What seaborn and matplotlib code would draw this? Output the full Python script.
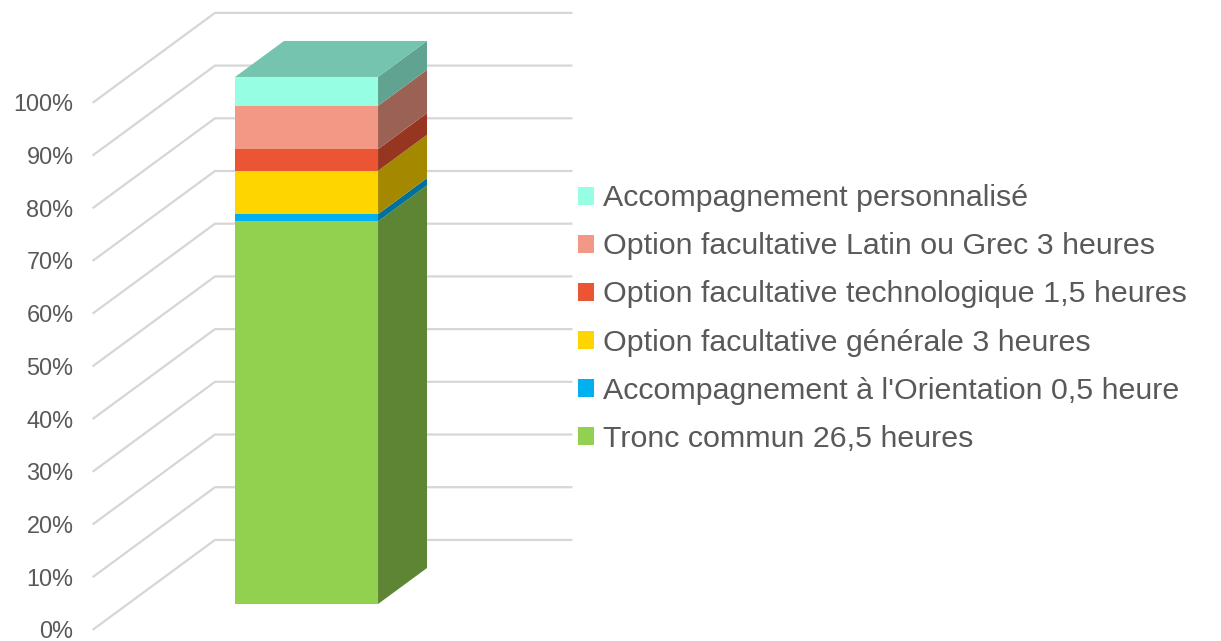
import matplotlib
matplotlib.use("Agg")
import matplotlib.pyplot as plt
from matplotlib.patches import Patch
import seaborn as sns
import numpy as np
import pandas as pd

# ---------------- data ----------------
categories = [
    "Tronc commun 26,5 heures",
    "Accompagnement à l'Orientation 0,5 heure",
    "Option facultative générale 3 heures",
    "Option facultative technologique 1,5 heures",
    "Option facultative Latin ou Grec 3 heures",
    "Accompagnement personnalisé",
]
hours = [26.5, 0.5, 3.0, 1.5, 3.0, 2.0]
bar_label = "Seconde"
tick_values = [0, 10, 20, 30, 40, 50, 60, 70, 80, 90, 100]
tick_labels = [f"{v}%" for v in tick_values]

# ---------------- style ----------------
front_colors = ["#92D050", "#00B0F0", "#FFD500", "#EB5533", "#F29885", "#96FFE3"]
SIDE_SHADE = 0.64
TOP_SHADE = 0.77
TEXT_COLOR = "#595959"
GRID_COLOR = "#D6D6D6"

DX, DY = 0.274, 6.83          # screen shift for one unit of depth
BAR_W = 0.8
FLOOR_X = (-1.0, 1.0)
FLOOR_Z = (-0.72, 1.78)

sns.set_theme(style="white")
plt.rcParams["font.family"] = ["Liberation Sans", "DejaVu Sans"]


def shade(hex_color, f):
    r, g, b = matplotlib.colors.to_rgb(hex_color)
    return (r * f, g * f, b * f)


def proj(x, y, z):
    return x + z * DX, y + z * DY


pct = np.array(hours) / np.sum(hours) * 100
tops = np.cumsum(pct)
bottoms = tops - pct

fig = plt.figure(figsize=(12.21, 6.41), dpi=100)
ax = fig.add_axes([0, 0, 1, 1])

# gridlines: floor diagonal + back wall
for t in tick_values:
    p0 = proj(FLOOR_X[0], t, FLOOR_Z[0])
    p1 = proj(FLOOR_X[0], t, FLOOR_Z[1])
    p2 = proj(FLOOR_X[1], t, FLOOR_Z[1])
    ax.plot([p0[0], p1[0], p2[0]], [p0[1], p1[1], p2[1]],
            color=GRID_COLOR, lw=1.6, zorder=1, solid_capstyle="butt")

# front faces (stacked, drawn from the tallest cumulative down)
for i in reversed(range(len(categories))):
    df = pd.DataFrame({"cat": [bar_label], "val": [tops[i]]})
    sns.barplot(data=df, x="cat", y="val", color=front_colors[i],
                saturation=1, width=BAR_W, errorbar=None, ax=ax,
                zorder=3, linewidth=0)

# side faces
x1 = BAR_W / 2
x0 = -BAR_W / 2
for i in range(len(categories)):
    pts = [proj(x1, bottoms[i], 0), proj(x1, bottoms[i], 1),
           proj(x1, tops[i], 1), proj(x1, tops[i], 0)]
    xs, ys = zip(*pts)
    ax.fill(xs, ys, color=shade(front_colors[i], SIDE_SHADE), lw=0, zorder=3)

# top face
pts = [proj(x0, tops[-1], 0), proj(x1, tops[-1], 0),
       proj(x1, tops[-1], 1), proj(x0, tops[-1], 1)]
xs, ys = zip(*pts)
ax.fill(xs, ys, color=shade(front_colors[-1], TOP_SHADE), lw=0, zorder=3)

# tick labels at the front edge of the floor
for t, lab in zip(tick_values, tick_labels):
    px, py = proj(FLOOR_X[0], t, FLOOR_Z[0])
    ax.annotate(lab, (px, py), xytext=(-19, -2), textcoords="offset pixels",
                ha="right", va="center", fontsize=16.9, color=TEXT_COLOR)

# legend
handles = [Patch(facecolor=c, edgecolor="none") for c in front_colors][::-1]
labels = categories[::-1]
leg = fig.legend(handles, labels, loc="center left",
                 bbox_to_anchor=(578 / 1221, 1 - 318.5 / 641),
                 bbox_transform=fig.transFigure, frameon=False,
                 fontsize=21.9, labelcolor=TEXT_COLOR,
                 handlelength=0.53, handleheight=0.53, handletextpad=0.29,
                 borderpad=0, borderaxespad=0, labelspacing=0.66)

ax.set_xlim(-1.715, 5.116)
ax.set_ylim(-7.02, 114.6)
ax.axis("off")

fig.savefig("out.png", dpi=100)
